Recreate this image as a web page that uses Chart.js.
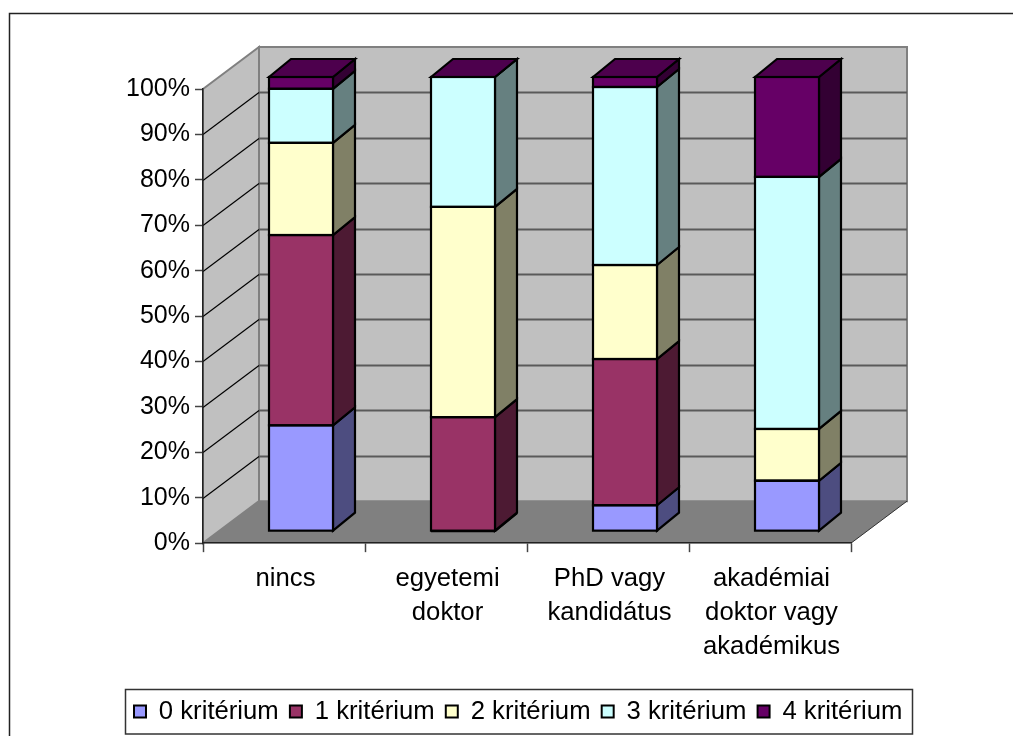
<!DOCTYPE html>
<html>
<head>
<meta charset="utf-8">
<title>kritérium</title>
<script src="https://cdn.jsdelivr.net/npm/chart.js@4/dist/chart.umd.min.js"></script>
<style>
  html, body { margin: 0; padding: 0; background: #fff; overflow: hidden; }
  canvas { display: block; }
</style>
</head>
<body>
<canvas id="myChart" width="1013" height="736"></canvas>
<script>
// values, percent of each column
const categories = [['nincs'], ['egyetemi', 'doktor'], ['PhD vagy', 'kandidátus'], ['akadémiai', 'doktor vagy', 'akadémikus']];
const seriesNames = ['0 kritérium', '1 kritérium', '2 kritérium', '3 kritérium', '4 kritérium'];
const krit0 = [23.3, 0, 5.7, 11.1];
const krit1 = [41.9, 25.1, 32.2, 0];
const krit2 = [20.3, 46.3, 20.7, 11.4];
const krit3 = [11.9, 28.6, 39.2, 55.5];
const krit4 = [2.6, 0, 2.2, 22];

const frontColors = ['#9999FF', '#993366', '#FFFFCC', '#CCFFFF', '#660066'];
const sideColors = ['#4D4D80', '#4D1A33', '#808066', '#668080', '#330033'];
const topColor = '#4D004D';

const wall = {dx: 56, dy: -42};      // depth of the box
const barShift = {dx: 17, dy: -12};  // where columns sit on the floor
const barDepth = {dx: 22, dy: -18};  // depth of a column

function poly(ctx, pts, fill, stroke, lw) {
    ctx.beginPath();
    pts.forEach((p, i) => i ? ctx.lineTo(p[0], p[1]) : ctx.moveTo(p[0], p[1]));
    ctx.closePath();
    if (fill) { ctx.fillStyle = fill; ctx.fill(); }
    if (stroke) { ctx.strokeStyle = stroke; ctx.lineWidth = lw; ctx.stroke(); }
}

const box3d = {
    id: 'box3d',
    afterLayout(chart) {
        // legend sits in its own box, not centred on the plot
        chart.legend.left = 122.85;
        chart.legend.right = 1013;
        chart.legend.top = 687.5;
    },
    beforeDraw(chart) {
        const ctx = chart.ctx, a = chart.chartArea, y = chart.scales.y;
        const l = a.left, r = a.right, t = a.top, b = a.bottom;
        ctx.save();
        // outer frame, right and bottom are cut off in the picture
        ctx.beginPath();
        ctx.moveTo(9.5, 736); ctx.lineTo(9.5, 13.5); ctx.lineTo(1013, 13.5);
        ctx.strokeStyle = '#222'; ctx.lineWidth = 1.5; ctx.stroke();

        // walls and floor
        poly(ctx, [[l + wall.dx, t + wall.dy], [r + wall.dx, t + wall.dy], [r + wall.dx, b + wall.dy], [l + wall.dx, b + wall.dy]], '#C0C0C0', '#808080', 2);
        poly(ctx, [[l, t], [l + wall.dx, t + wall.dy], [l + wall.dx, b + wall.dy], [l, b]], '#C0C0C0', '#808080', 2);
        poly(ctx, [[l, b], [r, b], [r + wall.dx, b + wall.dy], [l + wall.dx, b + wall.dy]], '#808080');

        // gridlines, along the side wall then the back wall
        y.ticks.forEach(tk => {
            if (tk.value === 0 || tk.value === 100) return;
            const py = Math.round(y.getPixelForValue(tk.value)) + 0.5;
            ctx.beginPath();
            ctx.moveTo(l, py); ctx.lineTo(l + wall.dx, py + wall.dy);
            ctx.strokeStyle = '#000'; ctx.lineWidth = 1.2; ctx.stroke();
            ctx.beginPath();
            ctx.moveTo(l + wall.dx, py + wall.dy); ctx.lineTo(r + wall.dx, py + wall.dy);
            ctx.strokeStyle = '#5A5A5A'; ctx.lineWidth = 2; ctx.stroke();
        });
        ctx.beginPath();
        ctx.moveTo(r, b); ctx.lineTo(r + wall.dx, b + wall.dy);
        ctx.strokeStyle = '#333'; ctx.lineWidth = 1; ctx.stroke();

        // legend box
        ctx.strokeStyle = '#333'; ctx.lineWidth = 1.5;
        ctx.strokeRect(125.5, 689.5, 787, 44.5);
        ctx.restore();
    },
    beforeDatasetsDraw(chart) {
        const ctx = chart.ctx;
        ctx.save();
        ctx.translate(barShift.dx, barShift.dy);
        chart.data.datasets.forEach((ds, s) => {
            chart.getDatasetMeta(s).data.forEach(bar => {
                const x2 = bar.x + bar.width / 2;
                poly(ctx, [[x2, bar.y], [x2 + barDepth.dx, bar.y + barDepth.dy], [x2 + barDepth.dx, bar.base + barDepth.dy], [x2, bar.base]], sideColors[s], '#000', 2.2);
                if (s === chart.data.datasets.length - 1) {
                    const x1 = bar.x - bar.width / 2;
                    poly(ctx, [[x1, bar.y], [x1 + barDepth.dx, bar.y + barDepth.dy], [x2 + barDepth.dx, bar.y + barDepth.dy], [x2, bar.y]], topColor, '#000', 2.2);
                }
            });
        });
    },
    afterDatasetsDraw(chart) {
        const ctx = chart.ctx;
        ctx.strokeStyle = '#000';
        ctx.lineWidth = 2.2;
        chart.data.datasets.forEach((ds, s) => {
            chart.getDatasetMeta(s).data.forEach(bar => {
                ctx.strokeRect(bar.x - bar.width / 2, bar.y, bar.width, bar.base - bar.y);
            });
        });
        ctx.restore();
    }
};

const seriesValues = [krit0, krit1, krit2, krit3, krit4];

new Chart(document.getElementById('myChart').getContext('2d'), {
    type: 'bar',
    data: {
        labels: categories,
        datasets: seriesNames.map((name, i) => ({
            label: name,
            data: seriesValues[i],
            backgroundColor: frontColors[i],
            borderWidth: 0,
            categoryPercentage: 1,
            barPercentage: 0.395,
            clip: false
        }))
    },
    options: {
        responsive: false,
        animation: false,
        layout: {padding: {left: 0, right: 162, top: 89, bottom: 0}},
        font: {family: '"Liberation Sans"', size: 25},
        scales: {
            x: {
                stacked: true,
                afterFit(scale) { scale.height = 146; },
                grid: {drawOnChartArea: false, offset: true, color: '#444', tickLength: 9, tickWidth: 1.5},
                border: {color: '#222', width: 1.5},
                ticks: {color: '#000', maxRotation: 0, autoSkip: false, padding: 10, labelOffset: 1.5, font: {family: '"Liberation Sans"', size: 25.7, lineHeight: 1.32}}
            },
            y: {
                stacked: true,
                min: 0,
                max: 100,
                afterFit(scale) { scale.width = 203; },
                grid: {drawOnChartArea: false, color: '#444', tickLength: 8, tickWidth: 1.5},
                border: {color: '#222', width: 1.5},
                ticks: {
                    stepSize: 10,
                    color: '#000',
                    padding: 5,
                    font: {family: '"Liberation Sans"', size: 25},
                    callback: v => v + '%'
                }
            }
        },
        plugins: {
            title: {display: false},
            tooltip: {enabled: false},
            legend: {
                position: 'bottom',
                align: 'start',
                labels: {
                    color: '#000',
                    boxWidth: 12,
                    boxHeight: 12,
                    padding: 11.15,
                    font: {family: '"Liberation Sans"', size: 25.7},
                    generateLabels(chart) {
                        return Chart.defaults.plugins.legend.labels.generateLabels(chart).map(it => {
                            it.strokeStyle = '#000';
                            it.lineWidth = 2;
                            return it;
                        });
                    }
                }
            }
        }
    },
    plugins: [box3d]
});
</script>
</body>
</html>
